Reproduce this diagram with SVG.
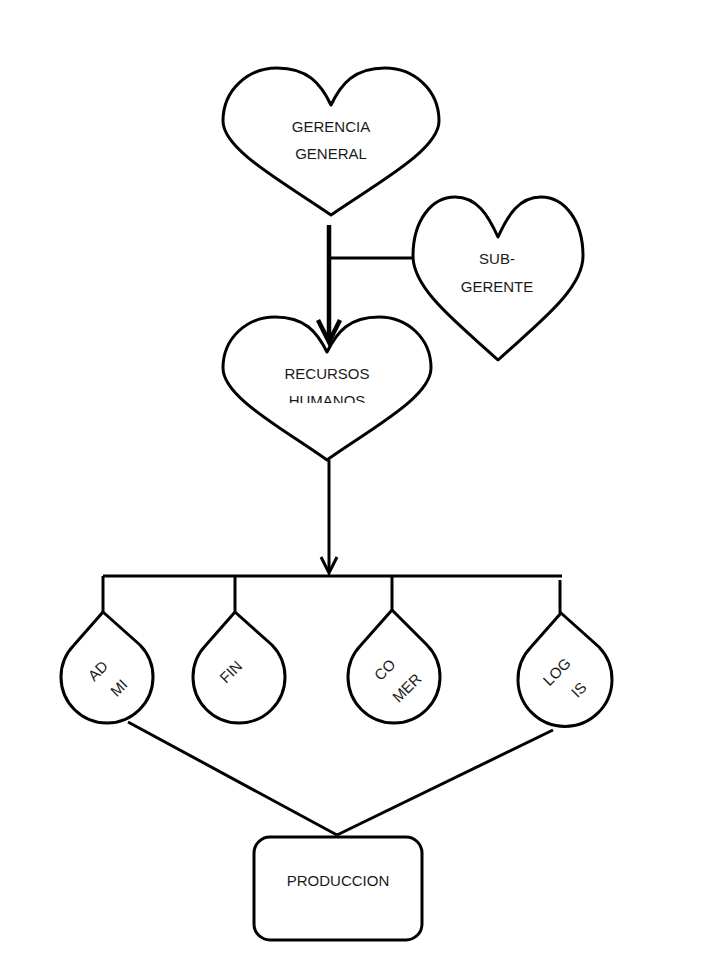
<svg xmlns="http://www.w3.org/2000/svg" width="720" height="978" viewBox="0 0 720 978">
<style>
.shape{fill:#fff;stroke:#000;stroke-width:3;stroke-linejoin:round}
.ln{fill:none;stroke:#000;stroke-width:3}
.lbl{font-family:"Liberation Sans",Arial,sans-serif;font-size:15px;fill:#1a1a1a;text-anchor:middle}
.rl{font-family:"Liberation Sans",Arial,sans-serif;font-size:15px;fill:#1a1a1a;text-anchor:middle}
</style>
<defs>
<clipPath id="clipHum"><rect x="200" y="300" width="260" height="103"/></clipPath>
</defs>
<rect width="720" height="978" fill="#fff"/>
<g id="connectors">
<line class="ln" x1="329" y1="225" x2="329" y2="340" style="stroke-width:4.5"/>
<polyline class="ln" points="318,320 329,342 340,320" style="stroke-width:4.5"/>
<line class="ln" x1="329" y1="258" x2="414" y2="258"/>
<line class="ln" x1="329" y1="460" x2="329" y2="572"/>
<polyline class="ln" points="321,557 329,573 337,557"/>
<line class="ln" x1="103" y1="576" x2="562" y2="576"/>
<line class="ln" x1="103" y1="576" x2="103" y2="612"/>
<line class="ln" x1="235" y1="576" x2="235" y2="612"/>
<line class="ln" x1="392" y1="576" x2="392" y2="610"/>
<line class="ln" x1="560" y1="580" x2="560" y2="613"/>
<line class="ln" x1="128" y1="722" x2="337" y2="835"/>
<line class="ln" x1="553" y1="730" x2="337" y2="835"/>
</g>
<g id="gerencia">
<path class="shape" d="M331,105 C321,84 308,68 277,68 C248,68 223,90 223,121 C223,150 285,183 331,215 C377,183 439,150 439,121 C439,90 414,68 385,68 C354,68 341,84 331,105 Z"/>
<text class="lbl" x="331" y="132">GERENCIA</text>
<text class="lbl" x="331" y="159">GENERAL</text>
</g>
<g id="subgerente">
<path class="shape" d="M498,237 C488,215 477,197 455,197 C432,197 413,220 413,256 C413,290 460,325 498,360 C536,325 583,290 583,256 C583,220 564,197 541,197 C519,197 508,215 498,237 Z"/>
<text class="lbl" x="497" y="264">SUB-</text>
<text class="lbl" x="497" y="292">GERENTE</text>
</g>
<g id="recursos">
<path class="shape" d="M327,352 C317,332 305,317 275,317 C247,317 223,338 223,368 C223,397 282,428 327,460 C372,428 431,397 431,368 C431,338 407,317 379,317 C349,317 337,332 327,352 Z"/>
<text class="lbl" x="327" y="379">RECURSOS</text>
<text class="lbl" x="327" y="406" clip-path="url(#clipHum)">HUMANOS</text>
</g>
<g id="admi">
<path class="shape" d="M103,612 L74,645 A46,46 0 1 0 140,645 Z"/>
<text class="rl" transform="translate(98,671) rotate(-45)" y="5">AD</text>
<text class="rl" transform="translate(119,688) rotate(-45)" y="5">MI</text>
</g>
<g id="fin">
<path class="shape" d="M235,612 L206,645 A46,46 0 1 0 272,645 Z"/>
<text class="rl" transform="translate(231,672) rotate(-45)" y="5">FIN</text>
</g>
<g id="comer">
<path class="shape" d="M392,610 L361,645 A46,46 0 1 0 427,645 Z"/>
<text class="rl" transform="translate(385,670) rotate(-45)" y="5">CO</text>
<text class="rl" transform="translate(407,688) rotate(-45)" y="5">MER</text>
</g>
<g id="logis">
<path class="shape" d="M561,613 L531,647 A47,47 0 1 0 599,647 Z"/>
<text class="rl" transform="translate(557,672) rotate(-45)" y="5">LOG</text>
<text class="rl" transform="translate(579,690) rotate(-45)" y="5">IS</text>
</g>
<g id="produccion">
<rect class="shape" x="254" y="837" width="168" height="103" rx="16" ry="16"/>
<text class="lbl" x="338" y="886">PRODUCCION</text>
</g>
</svg>
